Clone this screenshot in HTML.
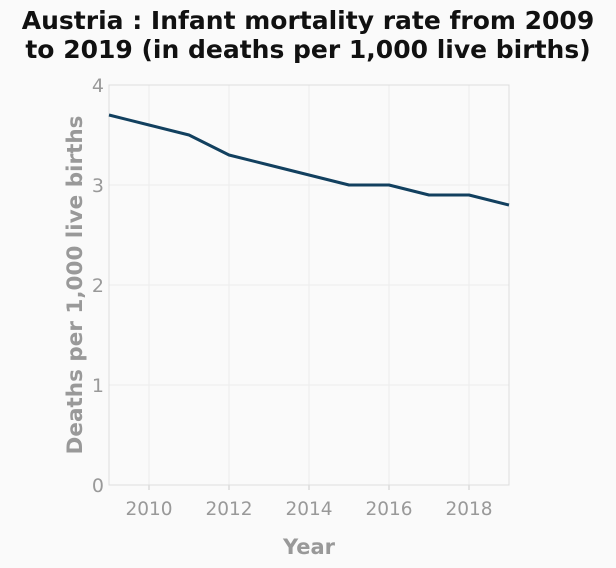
<!DOCTYPE html>
<html><head><meta charset="utf-8"><style>
body{margin:0;background:#fafafa;}
svg{display:block;font-family:"DejaVu Sans","Liberation Sans",sans-serif;}
</style></head><body>
<svg id="chart" width="616" height="568">
<rect width="616" height="568" fill="#fafafa"/>
<text x="308" y="29" text-anchor="middle" font-size="25" font-weight="bold" fill="#111">Austria : Infant mortality rate from 2009</text>
<text x="308" y="58" text-anchor="middle" font-size="25" font-weight="bold" fill="#111">to 2019 (in deaths per 1,000 live births)</text>
<g id="grid"></g><g id="axes"></g><g id="series"></g>
<text x="309" y="554" text-anchor="middle" font-size="21" font-weight="bold" fill="#999">Year</text>
<text transform="translate(82,285) rotate(-90)" text-anchor="middle" font-size="21.5" font-weight="bold" fill="#999">Deaths per 1,000 live births</text>
</svg>
<script>
const years=[2009,2010,2011,2012,2013,2014,2015,2016,2017,2018,2019];
const rates=[3.7,3.6,3.5,3.3,3.2,3.1,3.0,3.0,2.9,2.9,2.8];
const xTicks=[2010,2012,2014,2016,2018];
const yTicks=[0,1,2,3,4];
const L=109,R=509,T=85,B=485;
const xs=v=>L+(v-2009)/(2019-2009)*(R-L);
const ys=v=>B-v/4*(B-T);
const NS="http://www.w3.org/2000/svg";
function mk(tag,attrs,parent){const e=document.createElementNS(NS,tag);for(const k in attrs)e.setAttribute(k,attrs[k]);document.getElementById(parent).appendChild(e);return e;}
yTicks.forEach(v=>{
 const g=mk('line',{x1:L,x2:R,y1:ys(v),y2:ys(v),stroke:v==0?'#ccc':'#ececec','stroke-width':1},'grid');
 
 
 const t=mk('text',{x:L-5,y:ys(v)+7,'text-anchor':'end','font-size':19,fill:'#999'},'axes');
 t.textContent=v;
 
 
});
xTicks.forEach(v=>{
 const g=mk('line',{x1:xs(v),x2:xs(v),y1:T,y2:B,stroke:'#ececec','stroke-width':1},'grid');
 
 
 const k=mk('line',{x1:xs(v),x2:xs(v),y1:B,y2:B+5,stroke:'#ccc'},'axes');
 
 
 const t=mk('text',{x:xs(v),y:B+30,'text-anchor':'middle','font-size':18.5,fill:'#999'},'axes');
 t.textContent=v;
 
 
});
const frame=mk('rect',{x:L,y:T,width:R-L,height:B-T,fill:'none',stroke:'#ddd'},'axes');


const p=mk('polyline',{points:years.map((y,i)=>xs(y)+','+ys(rates[i])).join(' '),fill:'none',stroke:'#12405f','stroke-width':3,'stroke-linejoin':'round'},'series');


</script>
</body></html>
